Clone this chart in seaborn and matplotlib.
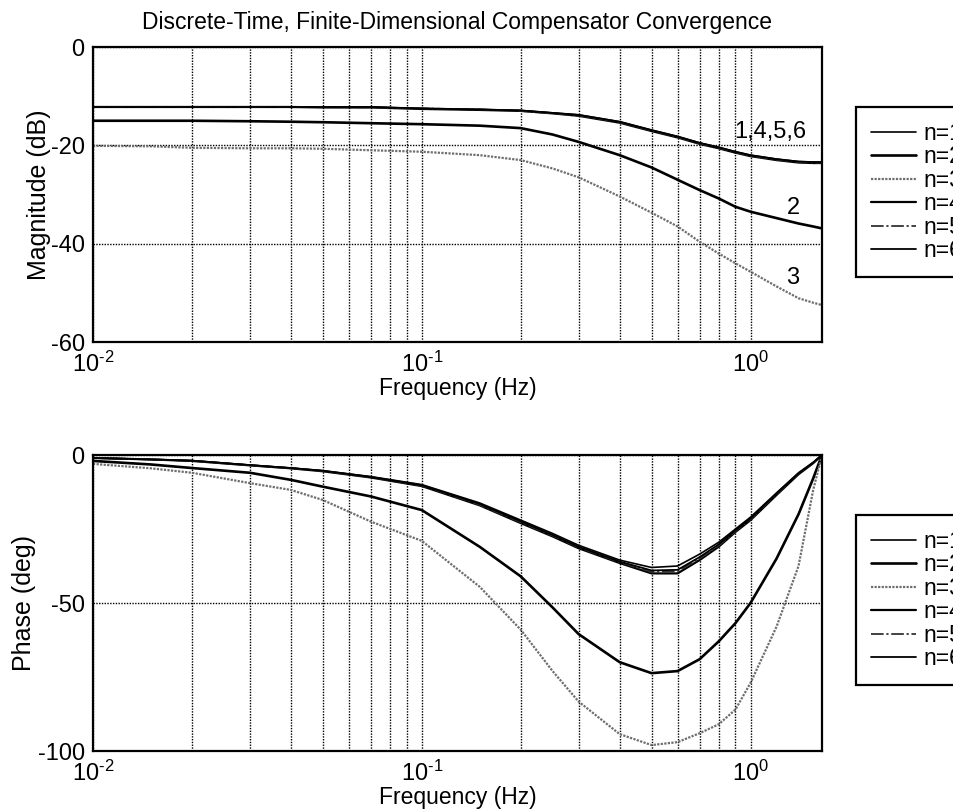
import numpy as np
import pandas as pd
import matplotlib
matplotlib.use("Agg")
import matplotlib.pyplot as plt
from matplotlib.ticker import FixedLocator, FixedFormatter
import seaborn as sns

# ---------------- data ----------------
freq = [0.01, 0.015, 0.02, 0.03, 0.04, 0.05, 0.07, 0.1, 0.15, 0.2, 0.25,
        0.3, 0.4, 0.5, 0.6, 0.7, 0.8, 0.9, 1.0, 1.2, 1.4, 1.55, 1.65]

mag_n1 = [-12.2, -12.2, -12.2, -12.2, -12.2, -12.2, -12.2, -12.5, -12.7, -12.9, -13.4,
          -13.8, -15.2, -16.9, -18.2, -19.5, -20.4, -21.3, -22.0, -22.8, -23.3, -23.4, -23.4]
mag_n2 = [-15.0, -15.0, -15.0, -15.1, -15.2, -15.3, -15.5, -15.7, -16.0, -16.5, -17.8,
          -19.3, -22.0, -24.5, -27.0, -29.1, -30.8, -32.5, -33.5, -34.8, -35.9, -36.5, -36.9]
mag_n3 = [-20.1, -20.2, -20.5, -20.6, -20.6, -20.7, -21.0, -21.3, -22.0, -23.0, -24.7,
          -26.5, -30.4, -33.7, -36.5, -39.6, -42.0, -44.0, -45.7, -48.7, -51.1, -52.0, -52.5]
mag_n4 = [-12.2, -12.2, -12.2, -12.2, -12.2, -12.3, -12.3, -12.6, -12.8, -13.0, -13.5,
          -14.0, -15.4, -17.1, -18.4, -19.7, -20.6, -21.5, -22.2, -23.0, -23.5, -23.6, -23.6]
mag_n5 = [-12.2, -12.2, -12.2, -12.2, -12.2, -12.2, -12.3, -12.5, -12.7, -13.0, -13.5,
          -13.9, -15.3, -17.0, -18.3, -19.6, -20.5, -21.4, -22.1, -22.9, -23.4, -23.5, -23.5]
mag_n6 = [-12.2, -12.2, -12.2, -12.2, -12.2, -12.2, -12.2, -12.5, -12.7, -12.9, -13.4,
          -13.8, -15.2, -16.9, -18.2, -19.5, -20.4, -21.3, -22.0, -22.8, -23.3, -23.4, -23.4]

ph_n1 = [-1.0, -1.5, -1.9, -3.4, -4.4, -5.3, -7.3, -10.0, -16.2, -22.0, -26.5,
         -30.5, -35.5, -38.0, -37.5, -33.5, -29.5, -25.0, -21.0, -12.8, -6.0, -2.5, 0.0]
ph_n2 = [-2.0, -3.2, -4.4, -6.0, -8.4, -10.7, -14.0, -18.6, -31.0, -41.0, -51.5,
         -60.5, -70.0, -73.7, -73.0, -69.0, -63.0, -56.8, -50.0, -35.0, -20.0, -8.0, 0.0]
ph_n3 = [-3.0, -4.5, -6.0, -9.5, -11.8, -15.2, -22.5, -29.0, -44.5, -59.0, -73.0,
         -83.3, -94.3, -98.0, -97.0, -94.0, -91.0, -86.0, -77.0, -58.0, -37.5, -12.0, 0.0]
ph_n4 = [-1.0, -1.5, -2.0, -3.5, -4.5, -5.5, -7.6, -10.5, -17.0, -23.0, -27.5,
         -31.5, -36.5, -40.0, -40.0, -35.5, -31.0, -26.0, -22.0, -13.5, -6.5, -2.8, 0.0]
ph_n5 = [-1.0, -1.5, -2.0, -3.5, -4.5, -5.4, -7.5, -10.3, -16.8, -22.7, -27.2,
         -31.2, -36.2, -39.5, -39.3, -35.0, -30.6, -25.7, -21.7, -13.2, -6.3, -2.7, 0.0]
ph_n6 = [-1.0, -1.5, -1.9, -3.4, -4.4, -5.3, -7.4, -10.2, -16.5, -22.4, -27.0,
         -31.0, -36.0, -39.0, -38.8, -34.5, -30.2, -25.4, -21.4, -13.0, -6.2, -2.6, 0.0]

labels = ["n=1", "n=2", "n=3", "n=4", "n=5", "n=6"]
mag_series = [mag_n1, mag_n2, mag_n3, mag_n4, mag_n5, mag_n6]
ph_series = [ph_n1, ph_n2, ph_n3, ph_n4, ph_n5, ph_n6]

mag_yticks = [0, -20, -40, -60]
ph_yticks = [0, -50, -100]
xtick_vals = [0.01, 0.1, 1.0]
xtick_labels = [r"$\mathregular{10^{\text{-}2}}$", r"$\mathregular{10^{\text{-}1}}$",
                r"$\mathregular{10^{0}}$"]

title = "Discrete-Time, Finite-Dimensional Compensator Convergence"

# ---------------- styles ----------------
styles = [
    dict(color="black", linestyle="-", linewidth=1.2),
    dict(color="black", linestyle="-", linewidth=1.9),
    dict(color="#6e6e6e", linestyle=(0, (1, 0.6)), linewidth=1.6),
    dict(color="black", linestyle="-", linewidth=1.6),
    dict(color="#333333", linestyle=(0, (7, 1.5, 1.2, 1.5)), linewidth=1.3),
    dict(color="black", linestyle="-", linewidth=1.3),
]

sns.set_style("white")
plt.rcParams["font.family"] = ["Liberation Sans", "DejaVu Sans"]
plt.rcParams["mathtext.fontset"] = "custom"
plt.rcParams["mathtext.rm"] = "Liberation Sans"
plt.rcParams["mathtext.it"] = "Liberation Sans"
plt.rcParams["axes.unicode_minus"] = False
plt.rcParams["text.color"] = "black"
plt.rcParams["axes.labelcolor"] = "black"

fig = plt.figure(figsize=(9.54, 8.10), dpi=100)
W, H = 954, 810
ax1 = fig.add_axes([93 / W, 1 - 342 / H, (822 - 93) / W, (342 - 47) / H])
ax2 = fig.add_axes([93 / W, 1 - 751 / H, (822 - 93) / W, (751 - 455) / H])

fs = 16.5
grid_kw = dict(color="black", linestyle=(0, (1, 1)), linewidth=1.0)


def draw(ax, series, yticks, ylabel, label_x, legend_top):
    for lab, vals, st in zip(labels, series, styles):
        sns.lineplot(x=freq, y=vals, ax=ax, label=lab, **st)
    ax.set_xscale("log")
    ax.set_xlim(0.01, 1.65)
    ax.set_ylim(min(yticks), max(yticks))
    ax.set_yticks(yticks)
    ax.xaxis.set_major_locator(FixedLocator(xtick_vals))
    ax.xaxis.set_major_formatter(FixedFormatter(xtick_labels))
    ax.grid(True, which="major", axis="both", **grid_kw)
    ax.grid(True, which="minor", axis="x", **grid_kw)
    ax.set_axisbelow(True)
    for s in ax.spines.values():
        s.set_color("black")
        s.set_linewidth(1.6)
    ax.tick_params(axis="both", which="both", length=0, labelsize=fs + 0.5,
                   colors="black")
    ax.tick_params(axis="y", pad=6)
    ax.tick_params(axis="x", pad=7)
    ax.set_xlabel("Frequency (Hz)", fontsize=fs, labelpad=0)
    ax.set_ylabel(ylabel, fontsize=fs + 1.5)
    ax.yaxis.set_label_coords(label_x, 0.5)
    leg = ax.legend(loc="upper left", bbox_to_anchor=(856 / W, 1 - legend_top / H),
                    bbox_transform=fig.transFigure, frameon=True, fancybox=False,
                    fontsize=fs, handlelength=1.95, handletextpad=0.35,
                    labelspacing=0.02, borderpad=0.65, borderaxespad=0)
    fr = leg.get_frame()
    fr.set_edgecolor("black")
    fr.set_linewidth(1.6)
    fr.set_facecolor("white")
    fr.set_alpha(1)


draw(ax1, mag_series, mag_yticks, "Magnitude (dB)", -0.058, 107)
draw(ax2, ph_series, ph_yticks, "Phase (deg)", -0.078, 515)

ax1.set_title(title, fontsize=fs, pad=13)

ax1.text(1.15, -17.3, "1,4,5,6", fontsize=fs + 0.5, ha="center", va="center")
ax1.text(1.35, -32.8, "2", fontsize=fs + 0.5, ha="center", va="center")
ax1.text(1.34, -47.0, "3", fontsize=fs + 0.5, ha="center", va="center")

fig.savefig("out.png", dpi=100)
